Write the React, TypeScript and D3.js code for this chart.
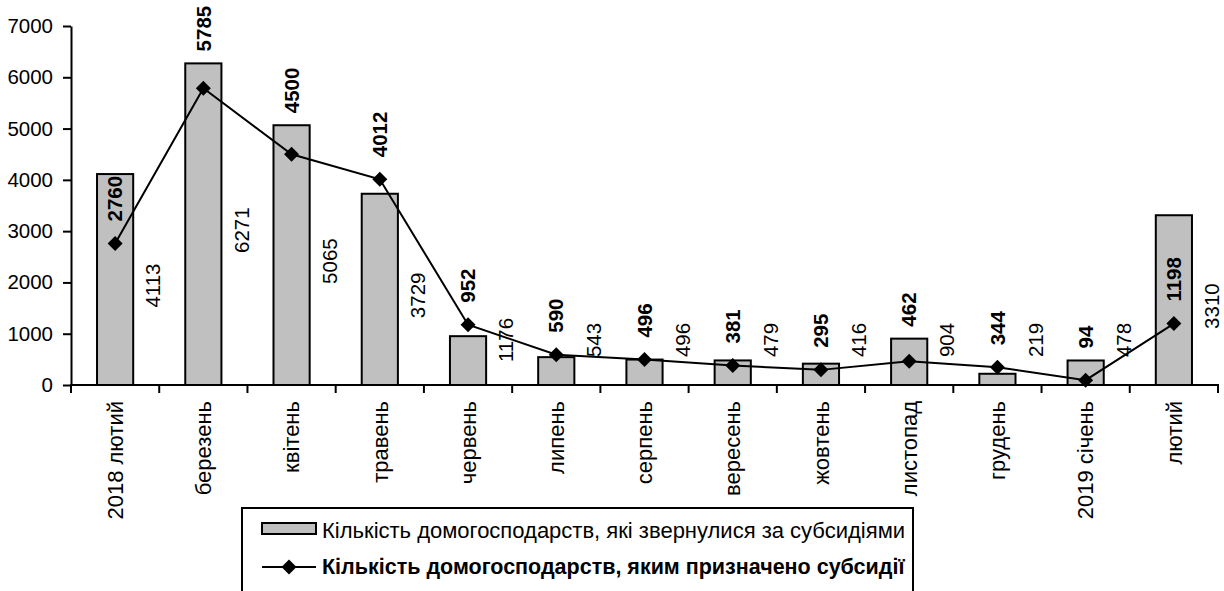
import React, { useEffect, useRef } from 'react';
import * as d3 from 'd3';

// months on the category axis
const months = ['2018 лютий', 'березень', 'квітень', 'травень', 'червень', 'липень',
  'серпень', 'вересень', 'жовтень', 'листопад', 'грудень', '2019 січень', 'лютий'];

// bar heights and marker heights as they are drawn in the picture
const appliedBars = [4113, 6271, 5065, 3729, 952, 543, 496, 479, 416, 904, 219, 478, 3310];
const grantedPoints = [2760, 5785, 4500, 4012, 1176, 590, 496, 381, 295, 462, 344, 94, 1198];

// label texts as printed (червень labels don't match the marks in the source)
const appliedLabels = [4113, 6271, 5065, 3729, 1176, 543, 496, 479, 416, 904, 219, 478, 3310];
const grantedLabels = [2760, 5785, 4500, 4012, 952, 590, 496, 381, 295, 462, 344, 94, 1198];

const yTicks = [0, 1000, 2000, 3000, 4000, 5000, 6000, 7000];

const legendNames = [
  'Кількість домогосподарств, які звернулися за субсидіями',
  'Кількість домогосподарств, яким призначено субсидії'
];

const W = 1224, H = 591;
const FONT = '"Liberation Sans", Arial, sans-serif';

export default function App() {
  const ref = useRef<SVGSVGElement>(null);

  useEffect(() => {
    if (!ref.current) return;
    const svg = d3.select(ref.current);
    svg.selectAll('*').remove();

    const x = d3.scaleBand<string>().domain(months).range([71, 1218]).padding(0);
    const y = d3.scaleLinear().domain([0, 7000]).range([385, 26]);
    const bw = x.bandwidth() * 0.41;
    const cx = (m: string) => (x(m) as number) + x.bandwidth() / 2;

    // y axis
    const ya = svg.append('g').attr('transform', 'translate(71,0)')
      .call(d3.axisLeft(y).tickValues(yTicks).tickFormat(d3.format('d'))
        .tickSize(8).tickSizeOuter(0).tickPadding(10));
    ya.select('.domain').attr('stroke', '#000').attr('stroke-width', 2);
    ya.selectAll('.tick line').attr('stroke', '#000').attr('stroke-width', 2);
    ya.selectAll('.tick text').attr('font-size', 20.5).attr('font-family', FONT).attr('fill', '#000');

    // bars
    svg.append('g').selectAll('rect').data(appliedBars).join('rect')
      .attr('x', (d, i) => cx(months[i]) - bw / 2)
      .attr('y', d => y(d))
      .attr('width', bw)
      .attr('height', d => y(0) - y(d))
      .attr('fill', '#c0c0c0')
      .attr('stroke', '#000')
      .attr('stroke-width', 2);

    // x axis line and ticks on the band edges
    const xa = svg.append('g');
    xa.append('line').attr('x1', 70).attr('x2', 1219).attr('y1', y(0)).attr('y2', y(0))
      .attr('stroke', '#000').attr('stroke-width', 2);
    const edges = months.map(m => x(m) as number).concat([x.range()[1]]);
    xa.selectAll('line.tk').data(edges).join('line').attr('class', 'tk')
      .attr('x1', d => d).attr('x2', d => d).attr('y1', y(0)).attr('y2', y(0) + 8)
      .attr('stroke', '#000').attr('stroke-width', 2);
    xa.selectAll('text').data(months).join('text')
      .attr('transform', d => `translate(${cx(d)},401) rotate(-90)`)
      .attr('text-anchor', 'end')
      .attr('dy', '0.35em')
      .attr('font-size', 22).attr('font-family', FONT)
      .text(d => d);

    // line with diamond markers
    const line = d3.line<number>()
      .x((d, i) => cx(months[i]))
      .y(d => y(d));
    svg.append('path').datum(grantedPoints)
      .attr('d', line)
      .attr('fill', 'none').attr('stroke', '#000').attr('stroke-width', 2);
    const diamond = (s: number) => `M0,${-s}L${s},0L0,${s}L${-s},0Z`;
    svg.append('g').selectAll('path').data(grantedPoints).join('path')
      .attr('transform', (d, i) => `translate(${cx(months[i])},${y(d)})`)
      .attr('d', diamond(7.5))
      .attr('fill', '#000');

    // labels of the bars: right of each bar
    svg.append('g').selectAll('text').data(appliedLabels).join('text')
      .attr('transform', (d, i) => {
        const mid = Math.min((y(appliedBars[i]) + y(0)) / 2 + 6, y(0) - 45);
        return `translate(${cx(months[i]) + 38},${mid}) rotate(-90)`;
      })
      .attr('text-anchor', 'middle')
      .attr('dy', '0.35em')
      .attr('font-size', 20.5).attr('font-family', FONT)
      .text(d => d);

    // labels of the line: bold, above the marker, pushed over a bar top when it is close
    svg.append('g').selectAll('text').data(grantedLabels).join('text')
      .attr('transform', (d, i) => {
        const my = y(grantedPoints[i]);
        const top = y(appliedBars[i]);
        const base = my - top > 60 ? my - 22 : Math.min(my - 22, top - 12);
        return `translate(${cx(months[i])},${base}) rotate(-90)`;
      })
      .attr('text-anchor', 'start')
      .attr('dy', '0.35em')
      .attr('font-size', 20.5).attr('font-weight', 'bold').attr('font-family', FONT)
      .text(d => d);

    // legend
    const lg = svg.append('g');
    lg.append('rect').attr('x', 242).attr('y', 508).attr('width', 671).attr('height', 84)
      .attr('fill', '#fff').attr('stroke', '#000').attr('stroke-width', 2);
    lg.append('rect').attr('x', 262).attr('y', 523).attr('width', 54).attr('height', 11)
      .attr('fill', '#c0c0c0').attr('stroke', '#000').attr('stroke-width', 2);
    lg.append('line').attr('x1', 262).attr('x2', 316).attr('y1', 567).attr('y2', 567)
      .attr('stroke', '#000').attr('stroke-width', 2);
    lg.append('path').attr('transform', 'translate(289,567)').attr('d', diamond(7.5)).attr('fill', '#000');
    lg.append('text').attr('x', 322).attr('y', 538).attr('font-size', 22).attr('font-family', FONT)
      .text(legendNames[0]);
    lg.append('text').attr('x', 322).attr('y', 574).attr('font-size', 21.5).attr('font-weight', 'bold')
      .attr('font-family', FONT).text(legendNames[1]);
  }, []);

  return (
    <svg ref={ref} width={W} height={H}
      style={{ position: 'absolute', left: 0, top: 0, background: '#fff' }} />
  );
}
